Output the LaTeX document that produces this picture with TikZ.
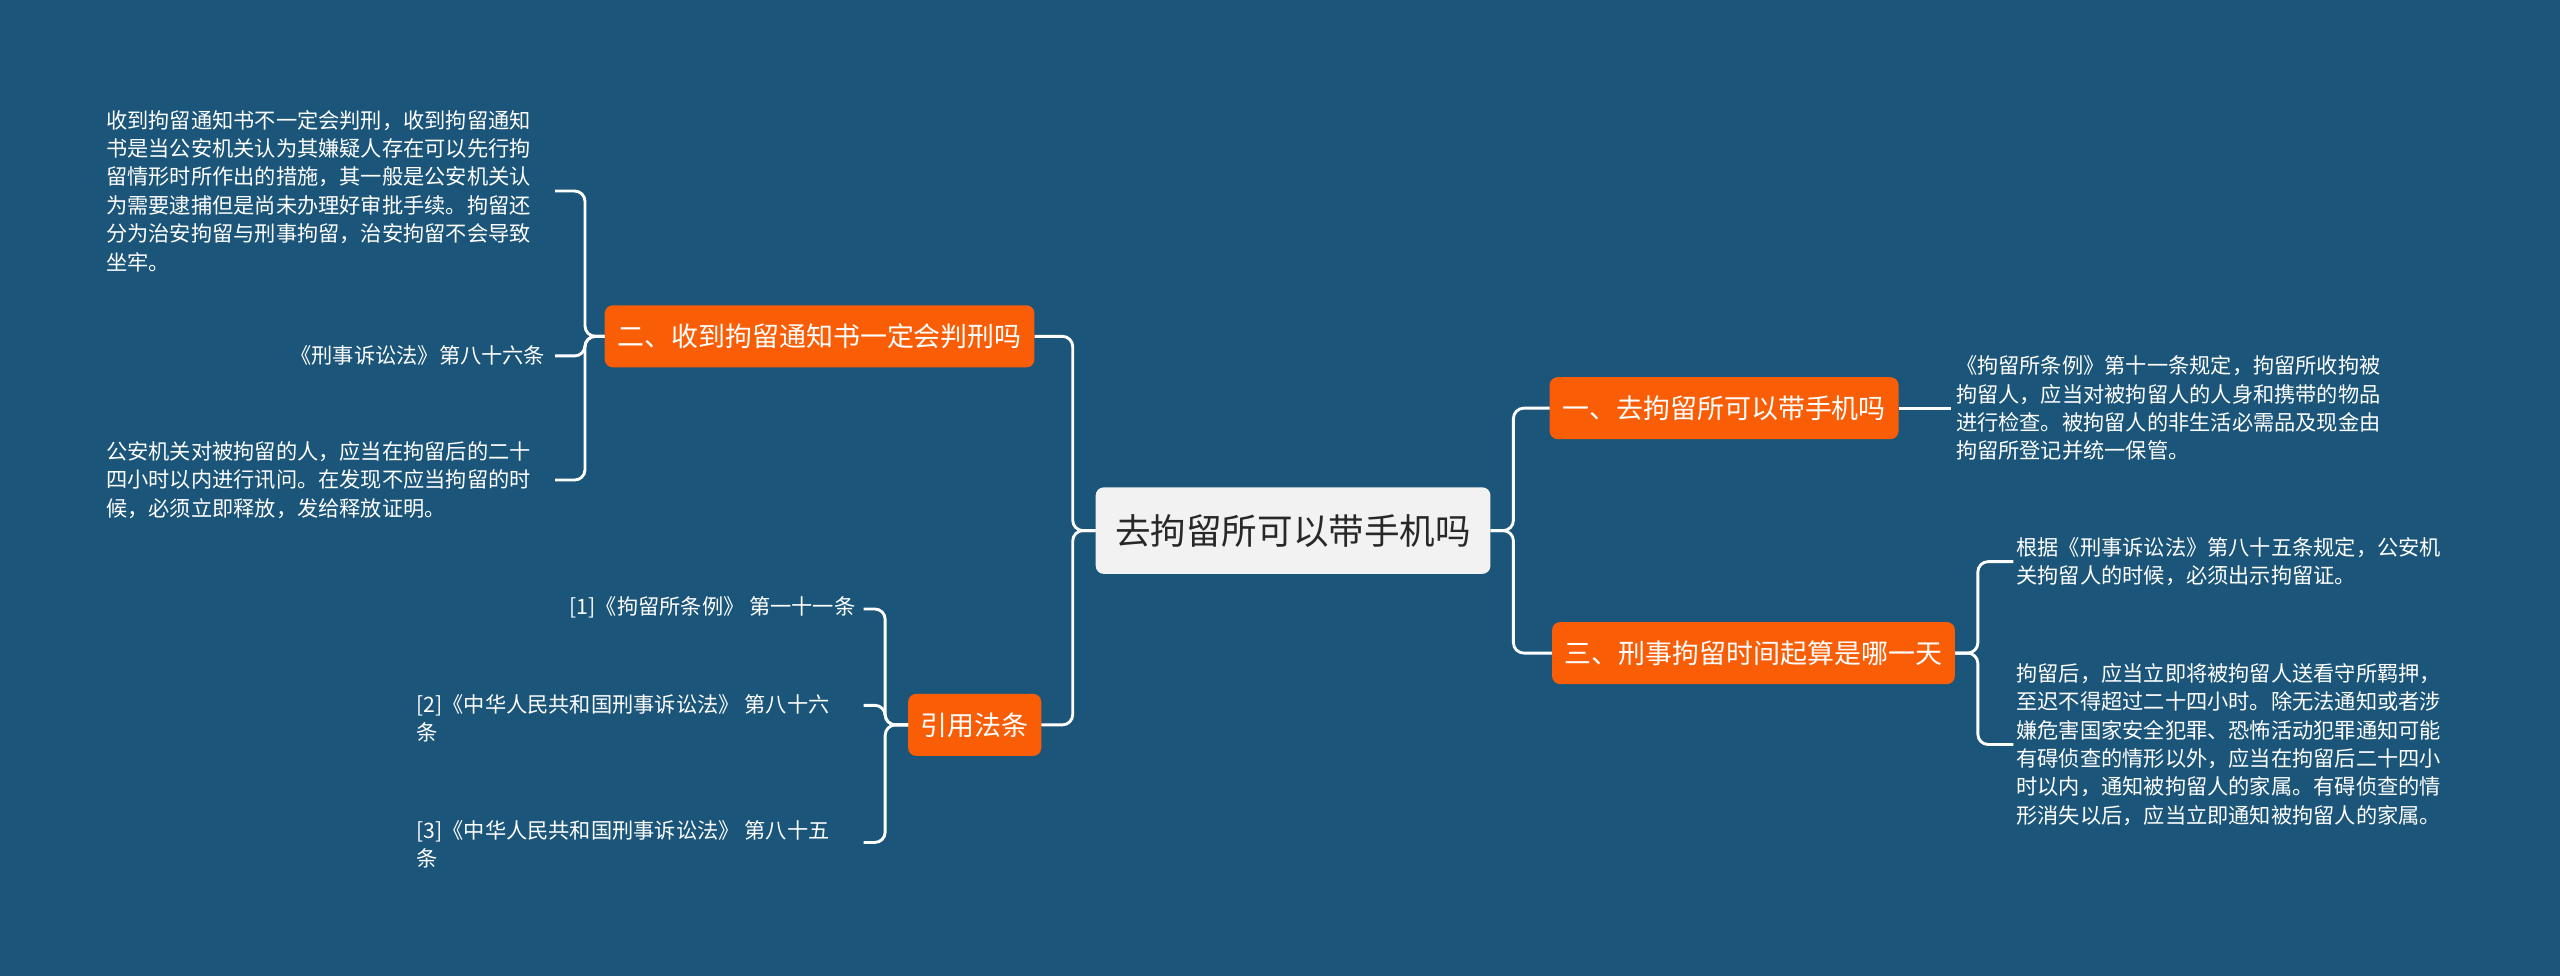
\documentclass[tikz,border=0pt]{standalone}
\usepackage{fontspec}
\setmainfont{Noto Sans CJK SC}
\begin{document}
\begin{tikzpicture}[x=0.1cm,y=-0.1cm,
  bg/.style={fill={rgb,255:red,27;green,85;blue,121}},
  branch/.style={fill={rgb,255:red,249;green,93;blue,6},rounded corners=14pt,text=white,font=\fontsize{47}{56}\selectfont,inner xsep=22pt,minimum height=3.8cm},
  rootbox/.style={fill={rgb,255:red,242;green,242;blue,242},rounded corners=14pt,text={rgb,255:red,40;green,40;blue,40},font=\fontsize{62}{74}\selectfont,inner xsep=34pt,minimum height=5.3cm},
  leaf/.style={text=white,font=\fontsize{37}{49.5}\selectfont,inner sep=0pt,align=left},
  conn/.style={draw=white,line width=5pt,rounded corners=18pt}]
\fill[bg] (0,0) rectangle (1568,598);
\useasboundingbox (0,0) rectangle (1568,598);
\node[rootbox] (root) at (792,325) {去拘留所可以带手机吗};
\node[branch] (n1) at (1056,250) {一、去拘留所可以带手机吗};
\node[branch] (n3) at (1074,400) {三、刑事拘留时间起算是哪一天};
\node[branch] (n2) at (502,206) {二、收到拘留通知书一定会判刑吗};
\node[branch] (rf) at (597,444) {引用法条};
\draw[conn] (root.east) -- ++(14,0) |- (n1.west);
\draw[conn] (root.east) -- ++(14,0) |- (n3.west);
\draw[conn] (root.west) -- ++(-14,0) |- (n2.east);
\draw[conn] (root.west) -- ++(-14,0) |- (rf.east);
% right leaves
\node[leaf,anchor=west] (l1) at (1198,250) {《拘留所条例》第十一条规定，拘留所收拘被\\拘留人，应当对被拘留人的人身和携带的物品\\进行检查。被拘留人的非生活必需品及现金由\\拘留所登记并统一保管。};
\draw[conn] (n1.east) -- ([xshift=-8]l1.west);
\node[leaf,anchor=west] (l31) at (1235,344) {根据《刑事诉讼法》第八十五条规定，公安机\\关拘留人的时候，必须出示拘留证。};
\node[leaf,anchor=west] (l32) at (1235,456) {拘留后，应当立即将被拘留人送看守所羁押，\\至迟不得超过二十四小时。除无法通知或者涉\\嫌危害国家安全犯罪、恐怖活动犯罪通知可能\\有碍侦查的情形以外，应当在拘留后二十四小\\时以内，通知被拘留人的家属。有碍侦查的情\\形消失以后，应当立即通知被拘留人的家属。};
\draw[conn] (n3.east) -- ++(14,0) |- ([xshift=-5]l31.west);
\draw[conn] (n3.east) -- ++(14,0) |- ([xshift=-5]l32.west);
% left leaves
\node[leaf,anchor=west] (l21) at (65,117) {收到拘留通知书不一定会判刑，收到拘留通知\\书是当公安机关认为其嫌疑人存在可以先行拘\\留情形时所作出的措施，其一般是公安机关认\\为需要逮捕但是尚未办理好审批手续。拘留还\\分为治安拘留与刑事拘留，治安拘留不会导致\\坐牢。};
\node[leaf,anchor=east] (l22) at (334,218) {《刑事诉讼法》第八十六条};
\node[leaf,anchor=west] (l23) at (65,294) {公安机关对被拘留的人，应当在拘留后的二十\\四小时以内进行讯问。在发现不应当拘留的时\\候，必须立即释放，发给释放证明。};
\coordinate (c21) at (340,117);
\coordinate (c22) at (340,218);
\coordinate (c23) at (340,294);
\draw[conn] (n2.west) -- ++(-12,0) |- (c21);
\draw[conn] (n2.west) -- ++(-12,0) |- (c22);
\draw[conn] (n2.west) -- ++(-12,0) |- (c23);
\node[leaf,anchor=east] (r1) at (524,372) {[1]《拘留所条例》 第一十一条};
\node[leaf,anchor=west] (r2) at (255,440) {[2]《中华人民共和国刑事诉讼法》 第八十六\\条};
\node[leaf,anchor=west] (r3) at (255,517) {[3]《中华人民共和国刑事诉讼法》 第八十五\\条};
\coordinate (cr1) at (529,373);
\coordinate (cr2) at (529,432);
\coordinate (cr3) at (529,516);
\draw[conn] (rf.west) -- ++(-14,0) |- (cr1);
\draw[conn] (rf.west) -- ++(-14,0) |- (cr2);
\draw[conn] (rf.west) -- ++(-14,0) |- (cr3);
\end{tikzpicture}
\end{document}
